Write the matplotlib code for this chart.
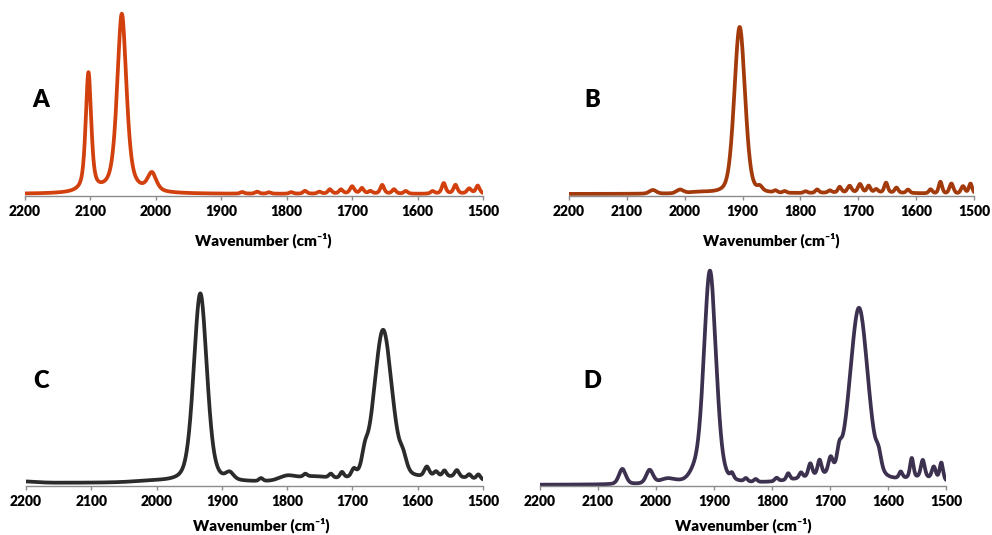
import numpy as np
import matplotlib.pyplot as plt

# peak lists: (wavenumber, height, fwhm), heights relative to main peak = 100
A_peaks = [(2103, 65, 10), (2052, 98, 17), (2006, 10, 16), (1868, 0.9, 7), (1845, 1.1, 7),
           (1827, 0.8, 7), (1793, 0.9, 7), (1772, 1.6, 7), (1750, 1.1, 7), (1734, 2.4, 7),
           (1717, 2.3, 7), (1700, 4.0, 8), (1685, 3.0, 7), (1672, 1.4, 7), (1654, 4.8, 7),
           (1636, 2.4, 7), (1618, 1.5, 7), (1577, 1.4, 7), (1560, 5.8, 7), (1542, 4.8, 7),
           (1521, 2.8, 8), (1508, 4.4, 7)]
B_peaks = [(2055, 2.2, 14), (2008, 2.2, 14), (1975, 0.7, 40), (1905, 100, 22), (1870, 2.5, 10),
           (1843, 1.2, 7), (1827, 1.0, 7), (1791, 1.0, 7), (1771, 2.0, 7), (1749, 1.3, 7),
           (1732, 3.3, 7), (1715, 3.8, 8), (1697, 4.8, 8), (1682, 3.8, 7), (1669, 1.8, 7),
           (1652, 5.8, 7), (1634, 3.0, 7), (1614, 2.0, 7), (1575, 2.4, 7), (1558, 7.0, 7),
           (1539, 6.0, 8), (1519, 4.4, 8), (1506, 6.0, 7), (1690, 1.0, 160)]
C_peaks = [(2200, 0.7, 40), (2010, 0.6, 60), (1933, 97, 24), (1888, 3.5, 14), (1840, 1.5, 7),
           (1800, 2.5, 30), (1772, 1.5, 7), (1760, 2.5, 60), (1733, 2.0, 7), (1716, 3.0, 7),
           (1698, 3.5, 8), (1681, 7, 10), (1653, 78, 33), (1622, 6, 12), (1586, 5, 9),
           (1572, 2.5, 8), (1559, 3, 7), (1540, 3.5, 8), (1521, 2, 7), (1507, 2.5, 7),
           (1550, 2.5, 100)]
D_peaks = [(2058, 7, 14), (2011, 6.2, 14), (1980, 2.0, 30), (1935, 3, 20), (1907, 98, 25),
           (1869, 2.5, 7), (1845, 1.5, 7), (1828, 1.3, 7), (1792, 1.5, 7), (1772, 3.0, 7),
           (1750, 2.5, 7), (1734, 6, 8), (1718, 7, 8), (1699, 7, 9), (1684, 7, 9),
           (1650, 80, 37), (1616, 6, 10), (1578, 3, 7), (1559, 9, 7), (1540, 8, 8),
           (1521, 5.5, 8), (1508, 8, 7), (1720, 2.5, 120), (1540, 2.5, 80)]

labels = ['A', 'B', 'C', 'D']
colors = ['#d2400e', '#a33a0b', '#2b2b2b', '#3d3150']
mix = [0.6, 0.3, 0.35, 0.3]
ticks = [2200, 2100, 2000, 1900, 1800, 1700, 1600, 1500]

wn = np.arange(1500, 2200.25, 0.25)


def spectrum(peaks, eta):
    y = np.zeros_like(wn)
    for c, h, w in peaks:
        d = 2 * (wn - c) / w
        lor = 1 / (1 + d ** 2)
        gau = np.exp(-np.log(2) * d ** 2)
        y += h * (eta * lor + (1 - eta) * gau)
    return y


W, H = 992, 535
# pixel boxes: left, right, bottom, top
boxes = [(25, 483, 196, 5), (569, 974, 196, 5), (26, 483, 486, 262), (540, 946, 486, 262)]
ylims = [(-1.1, 103.3), (-1.2, 113.2), (-1.5, 113.3), (-0.5, 102.3)]
letter_pos = [(41, 100), (592, 100), (41, 381), (592, 381)]
xlab_shift = [9, 0, 7, 0]
xlab_drop = [44, 44, 39, 39]

fig = plt.figure(figsize=(W / 100, H / 100), dpi=100)
font = ['Lato', 'DejaVu Sans']

for i, peaks in enumerate([A_peaks, B_peaks, C_peaks, D_peaks]):
    l, r, b, t = boxes[i]
    ax = fig.add_axes([l / W, 1 - b / H, (r - l) / W, (b - t) / H])
    ax.plot(wn, spectrum(peaks, mix[i]), color=colors[i], lw=2.7, solid_capstyle='round')
    ax.set_xlim(2200, 1500)
    ax.set_ylim(*ylims[i])
    for s in ['top', 'left', 'right']:
        ax.spines[s].set_visible(False)
    ax.spines['bottom'].set_color('#8c8c8c')
    ax.spines['bottom'].set_linewidth(1.0)
    ax.set_yticks([])
    ax.set_xticks(ticks)
    ax.set_xticklabels([str(v) for v in ticks], fontfamily=font, fontweight='heavy', fontsize=10)
    ax.tick_params(axis='x', direction='out', length=3, width=1, color='#8c8c8c', pad=3.5)
    ax.patch.set_alpha(0)
    cx = (l + r) / 2 + xlab_shift[i]
    fig.text(cx / W, 1 - (b + xlab_drop[i]) / H, 'Wavenumber (cm⁻¹)', ha='center', va='center',
             fontfamily=font, fontweight='heavy', fontsize=11)
    lx, ly = letter_pos[i]
    fig.text(lx / W, 1 - ly / H, labels[i], ha='center', va='center',
             fontfamily=font, fontweight='heavy', fontsize=17)

fig.savefig('out.png', dpi=100)
